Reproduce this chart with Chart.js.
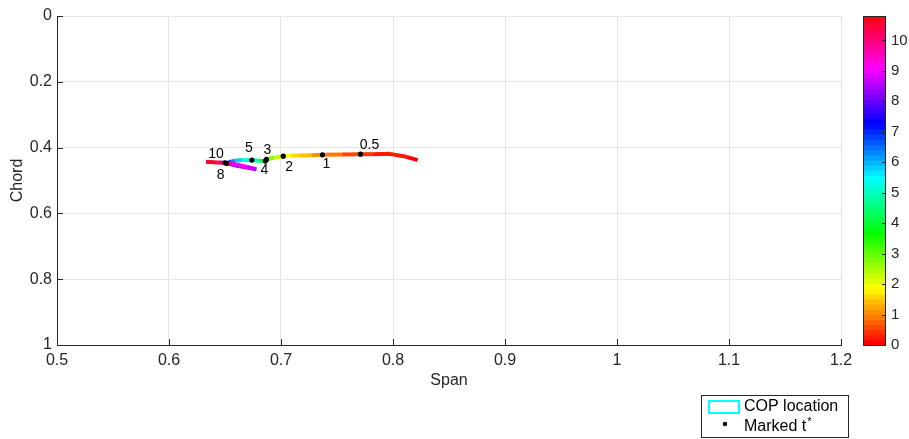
<!DOCTYPE html>
<html>
<head>
<meta charset="utf-8">
<script src="https://cdn.jsdelivr.net/npm/chart.js@4/dist/chart.umd.min.js"></script>
<style>
  html, body { margin: 0; padding: 0; background: #fff; }
  canvas { display: block; }
</style>
</head>
<body>
<canvas id="cop" width="909" height="439"></canvas>
<script>
// Centre-of-pressure path over time: span and chord position at each time (s)
const timeSec  = [0,     0.1,   0.25,  0.4,   0.5,   0.75,  1,     1.25,  1.5,   1.75,  2,     2.5,   3,     3.5,   4,     4.5,   5,     5.5,   6,     6.5,   7,     7.5,   8,      8.3,   8.6,   8.9,   9.3,   9.6,   10,    10.3,  10.8];
const spanPos  = [0.822, 0.812, 0.797, 0.782, 0.771, 0.754, 0.737, 0.727, 0.717, 0.709, 0.702, 0.694, 0.687, 0.687, 0.686, 0.680, 0.674, 0.665, 0.659, 0.656, 0.654, 0.653, 0.6515, 0.663, 0.678, 0.670, 0.660, 0.655, 0.650, 0.643, 0.633];
const chordPos = [0.438, 0.428, 0.419, 0.420, 0.420, 0.421, 0.422, 0.423, 0.424, 0.425, 0.426, 0.430, 0.436, 0.439, 0.441, 0.440, 0.438, 0.438, 0.440, 0.442, 0.444, 0.446, 0.448,  0.457, 0.466, 0.459, 0.451, 0.448, 0.446, 0.445, 0.443];

// Times that get a marker and a label
const markedTimes  = [0.5, 1, 2, 3, 4, 5, 8, 10];
const markedLabels = ['0.5', '1', '2', '3', '4', '5', '8', '10'];

// Axis ticks
const spanTicks       = [0.5, 0.6, 0.7, 0.8, 0.9, 1, 1.1, 1.2];
const spanTickLabels  = ['0.5', '0.6', '0.7', '0.8', '0.9', '1', '1.1', '1.2'];
const chordTicks      = [0, 0.2, 0.4, 0.6, 0.8, 1];
const chordTickLabels = ['0', '0.2', '0.4', '0.6', '0.8', '1'];

// Colour scale for time
const colorLimits    = [0, 10.8];
const colorbarTicks  = [0, 1, 2, 3, 4, 5, 6, 7, 8, 9, 10];
const colorbarLabels = ['0', '1', '2', '3', '4', '5', '6', '7', '8', '9', '10'];

// ---- styling ----
const FONT = '"Liberation Sans", Arial, Helvetica, sans-serif';
const AXIS_COLOR = '#262626';
const GRID_COLOR = '#e6e6e6';
const CMAP_SIZE = 64;
// label placement around each marker, in pixels
const labelOffsets = [[9, -9], [4, 9], [6, 11], [1, -9], [-1, 9], [-3, -12], [-6, 12], [-9, -9]];

// hsv colormap with CMAP_SIZE discrete entries
function hsvColor(t) {
  let k = Math.floor((t - colorLimits[0]) / (colorLimits[1] - colorLimits[0]) * CMAP_SIZE);
  k = Math.max(0, Math.min(CMAP_SIZE - 1, k));
  const h = k / CMAP_SIZE * 6;
  const i = Math.floor(h), f = h - i, q = 1 - f;
  let r, g, b;
  switch (i % 6) {
    case 0: r = 1; g = f; b = 0; break;
    case 1: r = q; g = 1; b = 0; break;
    case 2: r = 0; g = 1; b = f; break;
    case 3: r = 0; g = q; b = 1; break;
    case 4: r = f; g = 0; b = 1; break;
    default: r = 1; g = 0; b = q;
  }
  return `rgb(${Math.round(r * 255)},${Math.round(g * 255)},${Math.round(b * 255)})`;
}

const pathPoints = timeSec.map((t, i) => ({ x: spanPos[i], y: chordPos[i] }));
const markedPoints = markedTimes.map(t => {
  const i = timeSec.indexOf(t);
  return { x: spanPos[i], y: chordPos[i] };
});

const overlay = {
  id: 'overlay',
  afterDatasetsDraw(chart) {
    const ctx = chart.ctx;
    const area = chart.chartArea;
    const xs = chart.scales.x, ys = chart.scales.y, cb = chart.scales.cb;
    ctx.save();

    // inward tick marks
    ctx.strokeStyle = AXIS_COLOR;
    ctx.lineWidth = 1;
    ctx.beginPath();
    spanTicks.forEach(v => {
      const px = Math.round(xs.getPixelForValue(v)) + 0.5;
      ctx.moveTo(px, area.bottom);
      ctx.lineTo(px, area.bottom - 6);
    });
    chordTicks.forEach(v => {
      const py = Math.round(ys.getPixelForValue(v)) + 0.5;
      ctx.moveTo(area.left, py);
      ctx.lineTo(area.left + 6, py);
    });
    ctx.stroke();

    // labels next to the marked times
    const meta = chart.getDatasetMeta(1);
    ctx.fillStyle = '#000';
    ctx.font = '14px ' + FONT;
    ctx.textAlign = 'center';
    ctx.textBaseline = 'middle';
    meta.data.forEach((pt, i) => {
      ctx.fillText(markedLabels[i], pt.x + labelOffsets[i][0], pt.y + labelOffsets[i][1]);
    });

    // colour bar
    const barLeft = area.right + 22, barW = 22;
    const span = colorLimits[1] - colorLimits[0];
    for (let k = 0; k < CMAP_SIZE; k++) {
      const v0 = colorLimits[0] + span * k / CMAP_SIZE;
      const v1 = colorLimits[0] + span * (k + 1) / CMAP_SIZE;
      const y0 = cb.getPixelForValue(v0), y1 = cb.getPixelForValue(v1);
      ctx.fillStyle = hsvColor((v0 + v1) / 2);
      ctx.fillRect(barLeft, y1, barW, y0 - y1 + 0.6);
    }
    ctx.strokeStyle = AXIS_COLOR;
    ctx.lineWidth = 1;
    const yTop = cb.getPixelForValue(colorLimits[1]), yBot = cb.getPixelForValue(colorLimits[0]);
    ctx.strokeRect(barLeft + 0.5, Math.round(yTop) + 0.5, barW, Math.round(yBot - yTop));
    ctx.beginPath();
    colorbarTicks.forEach(v => {
      const py = Math.round(cb.getPixelForValue(v)) + 0.5;
      ctx.moveTo(barLeft + barW, py);
      ctx.lineTo(barLeft + barW - 3, py);
    });
    ctx.stroke();

    // legend
    const lx = 701.5, ly = 395.5, lw = 147, lh = 42;
    ctx.fillStyle = '#fff';
    ctx.fillRect(lx, ly, lw, lh);
    ctx.strokeStyle = AXIS_COLOR;
    ctx.lineWidth = 1;
    ctx.strokeRect(lx, ly, lw, lh);
    ctx.strokeStyle = '#00ffff';
    ctx.lineWidth = 2;
    ctx.strokeRect(709, 401, 30, 12);
    ctx.fillStyle = '#000';
    ctx.beginPath();
    ctx.arc(725, 424, 2.2, 0, Math.PI * 2);
    ctx.fill();
    ctx.font = '16px ' + FONT;
    ctx.textAlign = 'left';
    ctx.textBaseline = 'middle';
    ctx.fillText('COP location', 744, 407);
    ctx.fillText('Marked t', 744, 427);
    const w = ctx.measureText('Marked t').width;
    ctx.font = '11px ' + FONT;
    ctx.fillText('*', 744 + w + 1, 422);

    ctx.restore();
  }
};

new Chart(document.getElementById('cop'), {
  type: 'line',
  data: {
    datasets: [
      {
        label: 'COP location',
        order: 1,
        data: pathPoints,
        borderWidth: 4,
        borderCapStyle: 'butt',
        borderJoinStyle: 'round',
        pointRadius: 0,
        tension: 0,
        fill: false,
        borderColor: hsvColor(0),
        segment: {
          borderColor: c => hsvColor((timeSec[c.p0DataIndex] + timeSec[c.p1DataIndex]) / 2)
        }
      },
      {
        type: 'scatter',
        label: 'Marked t*',
        order: 0,
        data: markedPoints,
        showLine: false,
        pointRadius: 2.6,
        pointBackgroundColor: '#000',
        pointBorderColor: '#000',
        pointBorderWidth: 0
      }
    ]
  },
  options: {
    responsive: false,
    animation: false,
    events: [],
    layout: { padding: { left: 0, right: 0, top: 16, bottom: 48 } },
    plugins: { legend: { display: false }, tooltip: { enabled: false } },
    scales: {
      x: {
        type: 'linear', position: 'bottom', min: 0.5, max: 1.2,
        afterBuildTicks: s => { s.ticks = spanTicks.map(v => ({ value: v })); },
        afterFit: s => { s.height = 46; },
        ticks: {
          callback: (v, i) => spanTickLabels[i],
          font: { family: FONT, size: 16 }, color: AXIS_COLOR,
          padding: 6, maxRotation: 0, autoSkip: false
        },
        grid: { color: GRID_COLOR, drawTicks: false },
        border: { display: true, color: AXIS_COLOR, width: 1 },
        title: { display: true, text: 'Span', font: { family: FONT, size: 16 }, color: AXIS_COLOR, padding: { top: 0, bottom: 1 } }
      },
      y: {
        type: 'linear', position: 'left', reverse: true, min: 0, max: 1,
        afterBuildTicks: s => { s.ticks = chordTicks.map(v => ({ value: v })); },
        afterFit: s => { s.width = 57; s.paddingTop = 0; s.paddingBottom = 0; },
        ticks: {
          callback: (v, i) => chordTickLabels[i],
          font: { family: FONT, size: 16 }, color: AXIS_COLOR,
          padding: 5, autoSkip: false
        },
        grid: { color: GRID_COLOR, drawTicks: false },
        border: { display: true, color: AXIS_COLOR, width: 1 },
        title: { display: true, text: 'Chord', font: { family: FONT, size: 16 }, color: AXIS_COLOR, padding: { top: 8, bottom: 0 } }
      },
      cb: {
        type: 'linear', position: 'right', min: colorLimits[0], max: colorLimits[1],
        afterBuildTicks: s => { s.ticks = colorbarTicks.map(v => ({ value: v })); },
        afterFit: s => { s.width = 68; s.paddingTop = 0; s.paddingBottom = 0; },
        ticks: {
          callback: (v, i) => colorbarLabels[i],
          font: { family: FONT, size: 15 }, color: AXIS_COLOR,
          padding: 50, autoSkip: false
        },
        grid: { display: false, drawTicks: false },
        border: { display: false }
      }
    }
  },
  plugins: [overlay]
});
</script>
</body>
</html>
